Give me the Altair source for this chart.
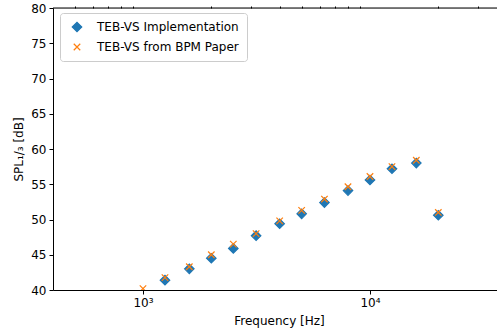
import altair as alt
import pandas as pd

# ---- data ----
freqs = [1000, 1250, 1600, 2000, 2500, 3150, 4000, 5000, 6300, 8000, 10000, 12500, 16000, 20000]
impl_spl = [39.2, 41.4, 43.0, 44.5, 45.9, 47.7, 49.4, 50.8, 52.4, 54.1, 55.6, 57.2, 58.0, 50.6]
paper_spl = [40.2, 41.75, 43.3, 45.0, 46.5, 48.0, 49.8, 51.3, 52.9, 54.65, 56.1, 57.5, 58.4, 51.0]
series_names = ["TEB-VS Implementation", "TEB-VS from BPM Paper"]
major_ticks = [1000, 10000]
minor_ticks = [500, 600, 700, 800, 900, 2000, 3000, 4000, 5000, 6000, 7000, 8000, 9000, 20000, 30000]
y_ticks = [40, 45, 50, 55, 60, 65, 70, 75, 80]

rows = []
for f, v in zip(freqs, impl_spl):
    rows.append({"freq": f, "spl": v, "series": series_names[0]})
for f, v in zip(freqs, paper_spl):
    rows.append({"freq": f, "spl": v, "series": series_names[1]})
df = pd.DataFrame(rows)

FONT = "DejaVu Sans"
W, H = 444, 282
xscale = alt.Scale(type="log", domain=[401.4, 36270], nice=False)
yscale = alt.Scale(domain=[40, 80], nice=False, zero=False)

legend = alt.Legend(
    title=None, orient="none", legendX=7, legendY=5, padding=8,
    fillColor="rgba(255,255,255,0.8)", strokeColor="#cccccc", cornerRadius=3,
    labelFontSize=12, labelFont=FONT, labelColor="black", rowPadding=6,
    labelOffset=14, symbolStrokeWidth=1.2, symbolOffset=3,
)

major_axis = alt.Axis(
    values=major_ticks, tickSize=4, labelPadding=3, grid=False,
    labelExpr="datum.value == 1000 ? '10³' : '10⁴'",
    title="Frequency [Hz]", titleFontSize=12, titleFont=FONT, titleFontWeight="normal",
    titleColor="black", titleX=226, titleY=34, titleBaseline="alphabetic",
    labelFontSize=12, labelFont=FONT, labelColor="black",
    domainColor="black", tickColor="black",
)
minor_axis = alt.Axis(
    values=minor_ticks, tickSize=2, labels=False, domain=False, grid=False,
    title=None, tickColor="black",
)
y_axis = alt.Axis(
    values=y_ticks, tickSize=4, labelPadding=3, grid=False,
    title="SPL₁/₃ [dB]", titleFontSize=12, titleFont=FONT, titleFontWeight="normal",
    titleColor="black", titleX=-28, titleY=141, titleAngle=270, titleBaseline="bottom",
    labelFontSize=12, labelFont=FONT, labelColor="black",
    domainColor="black", tickColor="black",
)

points = alt.Chart(df).mark_point(clip=True, opacity=1, strokeWidth=1.2).encode(
    x=alt.X("freq:Q", scale=xscale, axis=major_axis),
    y=alt.Y("spl:Q", scale=yscale, axis=y_axis),
    shape=alt.Shape("series:N", scale=alt.Scale(domain=series_names,
                    range=["diamond", "M-1,-1L1,1M-1,1L1,-1"]), legend=legend),
    fill=alt.Fill("series:N", scale=alt.Scale(domain=series_names,
                  range=["#1f77b4", "transparent"]), legend=legend),
    stroke=alt.Stroke("series:N", scale=alt.Scale(domain=series_names,
                      range=["#1f77b4", "#ff7f0e"]), legend=legend),
    size=alt.Size("series:N", scale=alt.Scale(domain=series_names,
                  range=[90, 42]), legend=legend),
)

minor = alt.Chart(pd.DataFrame({"freq": minor_ticks})).mark_point(opacity=0).encode(
    x=alt.X("freq:Q", scale=xscale, axis=minor_axis),
)

top_spine = alt.Chart(pd.DataFrame({"freq": [1000]})).mark_rule(color="black", strokeWidth=1).encode(
    x=alt.value(0), x2=alt.value(W), y=alt.value(0),
)

chart = alt.layer(points, minor, top_spine).resolve_axis(x="independent").properties(
    width=W, height=H,
    padding={"left": 53, "top": 8, "right": 0, "bottom": 44},
    autosize=alt.AutoSizeParams(type="none"),
).configure_view(stroke=None).configure(font=FONT, background="white")

chart.save("out.html", embed_options={"renderer": "svg", "actions": False})
